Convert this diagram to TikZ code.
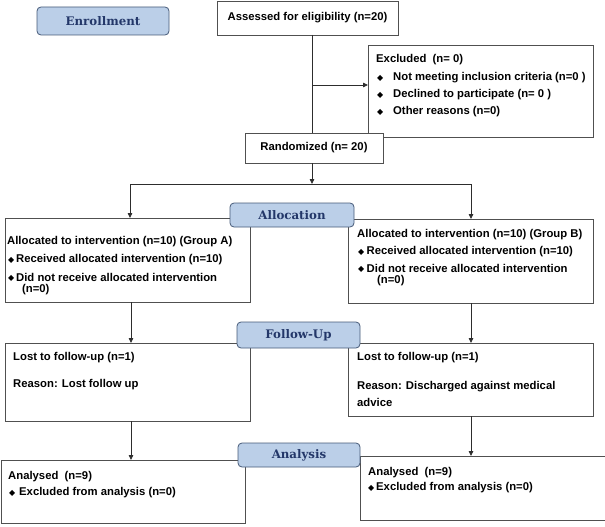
\documentclass[tikz,border=0pt]{standalone}
\usepackage{fontspec}
\setmainfont{Liberation Sans}
\newfontfamily\symfont{DejaVu Sans}
\newfontfamily\labfont{DejaVu Serif}
\usetikzlibrary{arrows.meta}
\definecolor{labfill}{RGB}{187,207,232}
\definecolor{labdraw}{RGB}{70,90,120}
\definecolor{labtext}{RGB}{35,55,105}
\definecolor{linec}{RGB}{45,45,45}
\definecolor{boxc}{RGB}{80,80,80}
\newcommand\bul{\raisebox{0.8pt}{\symfont\fontsize{8}{8}\selectfont ◆}}
\newcommand\bl[1]{\makebox[#1][l]{\bul}}
\begin{document}
\begin{tikzpicture}[x=1pt,y=-1pt,
  box/.style={draw=boxc, line width=0.8pt, fill=white, anchor=north west, inner sep=0pt, outer sep=0pt,
    font=\bfseries\fontsize{11.3}{13}\selectfont},
  lab/.style={draw=labdraw, line width=0.8pt, fill=labfill, rounded corners=4pt, anchor=north west,
    inner sep=0pt, outer sep=0pt, text=labtext, font=\labfont\bfseries\fontsize{11.8}{13}\selectfont},
  txt/.style={anchor=west, inner sep=0pt, font=\bfseries\fontsize{11.3}{13}\selectfont},
  ln/.style={draw=linec, line width=0.8pt},
  arr/.style={draw=linec, line width=0.8pt, -{Triangle[length=5pt,width=4.5pt]}}]
\useasboundingbox (0,0) rectangle (605,527);

% boxes
\node[box, minimum width=181pt, minimum height=34pt] (assess) at (217,1) {Assessed for eligibility (n=20)};
\node[box, minimum width=225pt, minimum height=92pt] (excl) at (368,45) {};
\node[box, minimum width=138pt, minimum height=30pt] (rand) at (245,133) {Randomized (n= 20)};
\node[box, minimum width=245pt, minimum height=84pt] (allocA) at (5,218) {};
\node[box, minimum width=245pt, minimum height=84pt] (allocB) at (348,219) {};
\node[box, minimum width=245pt, minimum height=78pt] (lostA) at (5,343) {};
\node[box, minimum width=245pt, minimum height=73pt] (lostB) at (348,343) {};
\node[box, minimum width=244pt, minimum height=63pt] (anaA) at (1,460) {};
\node[box, minimum width=252pt, minimum height=64pt] (anaB) at (360,456) {};

% texts
\node[txt] (ex0) at (376,60) {Excluded\ \ (n= 0)};
\node[txt] (ex1) at (377,78) {\bl{16pt}Not meeting inclusion criteria (n=0 )};
\node[txt] (ex2) at (377,95) {\bl{16pt}Declined to participate (n= 0 )};
\node[txt] (ex3) at (377,112) {\bl{16pt}Other reasons (n=0)};

\node[txt] (aa0) at (7,242) {Allocated to intervention (n=10) (Group A)};
\node[txt] (aa1) at (8,260) {\bl{8pt}Received allocated intervention (n=10)};
\node[txt] (aa2) at (8,277) {\bl{8pt}Did not receive allocated intervention};
\node[txt] (aa3) at (22,290) {(n=0)};

\node[txt] (ab0) at (357,235) {Allocated to intervention (n=10) (Group B)};
\node[txt] (ab1) at (358,252) {\bl{8.5pt}Received allocated intervention (n=10)};
\node[txt] (ab2) at (358,268) {\bl{8.5pt}Did not receive allocated intervention};
\node[txt] (ab3) at (377,281) {(n=0)};

\node[txt] (la0) at (13,358) {Lost to follow-up (n=1)};
\node[txt] (la1) at (13,385) {Reason: Lost follow up};

\node[txt] (lb0) at (357,358) {Lost to follow-up (n=1)};
\node[txt] (lb1) at (357,387) {Reason: Discharged against medical};
\node[txt] (lb2) at (357,402) {advice};

\node[txt] (na0) at (8,477) {Analysed\ \ (n=9)};
\node[txt] (na1) at (9,493) {\bl{10pt}Excluded from analysis (n=0)};

\node[txt] (nb0) at (368,473) {Analysed\ \ (n=9)};
\node[txt] (nb1) at (368,488) {\bl{8pt}Excluded from analysis (n=0)};

% labels
\node[lab, minimum width=132pt, minimum height=28pt] (enroll) at (37,7) {Enrollment};
\node[lab, minimum width=124pt, minimum height=24pt] (alloc) at (230,203) {Allocation};
\node[lab, minimum width=123pt, minimum height=26pt] (follow) at (237,322) {Follow-Up};
\node[lab, minimum width=122pt, minimum height=24pt] (analysis) at (238,443) {Analysis};

% connectors
\coordinate (jx) at (312,85);
\coordinate (split) at (312,184);
\coordinate (splitL) at (130,184);
\coordinate (splitR) at (471,184);
\draw[ln] (assess.south -| jx) -- (rand.north -| jx);
\draw[arr] (jx) -- (excl.west |- jx);
\draw[arr] (rand.south -| split) -- (split);
\draw[ln] (splitL) -- (splitR);
\draw[arr] (splitL) -- (allocA.north -| splitL);
\draw[arr] (splitR) -- (allocB.north -| splitR);
\coordinate (colL) at (131,0);
\coordinate (colR) at (471,0);
\draw[arr] (allocA.south -| colL) -- (lostA.north -| colL);
\draw[arr] (allocB.south -| colR) -- (lostB.north -| colR);
\draw[arr] (lostA.south -| colL) -- (anaA.north -| colL);
\draw[arr] (lostB.south -| colR) -- (anaB.north -| colR);
\end{tikzpicture}
\end{document}
